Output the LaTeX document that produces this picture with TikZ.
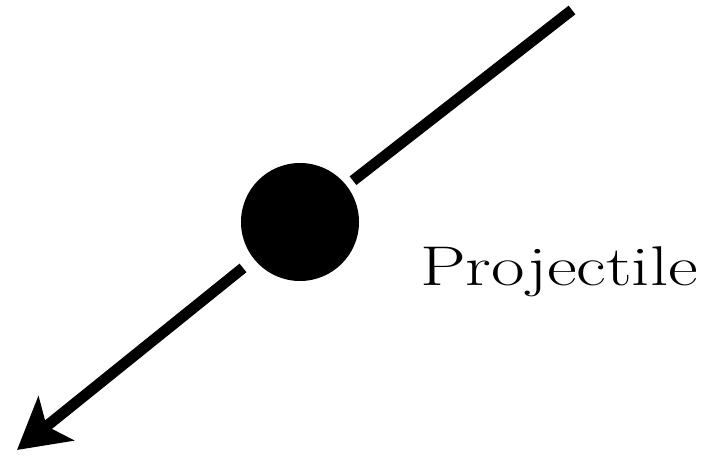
\documentclass[tikz,border=0pt]{standalone}
\usetikzlibrary{arrows.meta}
\tikzset{
  ball/.style={circle, fill=black, minimum size=118pt, inner sep=0pt},
  path/.style={line width=11pt, black},
}
\begin{document}
\begin{tikzpicture}[x=1pt, y=-1pt]
        \useasboundingbox (0,0) rectangle (706,457);

        % Projectile and its path
        \node[ball] (proj) at (300,222) {};
        \coordinate (start) at (572,10);
        \coordinate (tip) at (17,450);
        \draw[path, shorten >=8pt] (start) -- (proj);
        \draw[path, shorten <=14pt, -{Stealth[length=50pt, width=56pt, inset=12pt]}] (proj) -- (tip);

        % Label
        \node[anchor=base west, inner sep=0pt] (label) at (420,285)
            {\scalebox{1.3}[1]{\fontsize{56}{60}\selectfont Projectile}};
\end{tikzpicture}
\end{document}
